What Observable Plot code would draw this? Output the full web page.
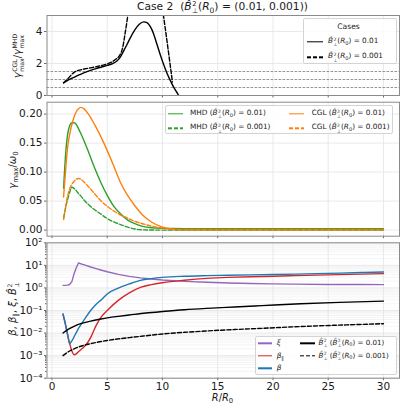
<!DOCTYPE html>
<html>
<head>
<meta charset="utf-8">
<script src="https://cdn.jsdelivr.net/npm/d3@7"></script>
<script src="https://cdn.jsdelivr.net/npm/@observablehq/plot@0.6"></script>
<style>
  html, body { margin: 0; padding: 0; background: #fff; }
  #fig { position: relative; width: 400px; height: 405px; overflow: hidden; font-family: "DejaVu Sans", sans-serif; color: #1a1a1a; }
  #fig svg.panel { position: absolute; left: 0; top: 0; }
  .txt { position: absolute; white-space: nowrap; line-height: 1; }
  .vlab { transform: translate(-50%, -50%) rotate(-90deg); }
  .mid { transform: translate(-50%, -50%); }
  .lft { transform: translateY(-50%); }
  .m { font-style: oblique; }
  .ss { display: inline-flex; flex-direction: column; font-size: 0.62em; line-height: 1.18; vertical-align: 0.62em; margin-left: 0.08em; text-align: left; }
  .sb { font-size: 0.7em; vertical-align: -0.3em; line-height: 0; }
  .box { position: absolute; border: 1px solid #d4d4d4; border-radius: 2px; background: rgba(255,255,255,0.85); box-sizing: border-box; }
  .sw { position: absolute; height: 1.4px; transform: translateY(-50%); }
</style>
</head>
<body>
<div id="fig"></div>
<script>
// ---- shared radial axis ----
const xDomain = [-0.45, 31.45];
const xTicks = [0, 5, 10, 15, 20, 25, 30];

// ---- top panel: ratio of CGL to MHD maximum growth rate ----
const rRatioA = [1.05, 1.5, 2.0, 2.5, 3.0, 3.5, 4.0, 4.5, 5.0, 5.5, 5.9, 6.2, 6.5, 6.8, 7.1, 7.5, 7.9, 8.3, 8.6, 8.9, 9.2, 9.5, 9.8, 10.1, 10.4, 10.7, 10.95, 11.2, 11.45];
const ratioA = [0.79, 0.97, 1.14, 1.3, 1.45, 1.57, 1.68, 1.78, 1.88, 2.0, 2.17, 2.42, 2.8, 3.2, 3.62, 4.1, 4.45, 4.6, 4.55, 4.3, 3.85, 3.2, 2.55, 1.95, 1.4, 0.95, 0.6, 0.3, 0.03];
const rRatioB = [1.05, 1.5, 2.0, 2.3, 2.6, 3.0, 3.5, 4.0, 4.5, 5.0, 5.5, 5.8, 6.1, 6.4, 6.6, 6.8, 6.9, 7.0, 7.5, 9.5, 9.9, 10.1, 10.4, 10.7, 10.9];
const ratioB = [0.79, 1.1, 1.45, 1.55, 1.6, 1.67, 1.73, 1.8, 1.88, 1.97, 2.13, 2.28, 2.48, 3.0, 3.8, 4.7, 5.2, 5.7, 8.0, 8.0, 6.0, 4.95, 3.45, 1.9, 0.85];
const ratioRefs = [0.5, 1, 1.5];
const ratioTicks = [0, 2, 4];

// ---- middle panel: maximum growth rate / omega_0 ----
const rGrowth = [1.05, 1.25, 1.4, 1.6, 1.8, 2.0, 2.2, 2.4, 2.6, 2.9, 3.3, 3.8, 4.4, 5.0, 5.6, 6.2, 6.8, 7.5, 8.2, 9.0, 10.0, 11.0, 12.0, 15.0, 20.0, 25.0, 30.0];
const mhdA = [0.072, 0.135, 0.163, 0.180, 0.185, 0.185, 0.182, 0.175, 0.167, 0.154, 0.135, 0.110, 0.083, 0.060, 0.041, 0.028, 0.018, 0.011, 0.0065, 0.004, 0.003, 0.0027, 0.0026, 0.0025, 0.0025, 0.0025, 0.0025];
const cglA = [0.057, 0.107, 0.140, 0.165, 0.182, 0.195, 0.204, 0.209, 0.2115, 0.209, 0.200, 0.184, 0.162, 0.137, 0.110, 0.082, 0.061, 0.042, 0.026, 0.014, 0.005, 0.0015, 0.001, 0.001, 0.001, 0.001, 0.001];
const mhdB = [0.021, 0.040, 0.052, 0.065, 0.074, 0.072, 0.068, 0.063, 0.059, 0.052, 0.044, 0.036, 0.028, 0.020, 0.014, 0.0095, 0.0055, 0.002, 0.0005, 0.0001, 0, 0, 0, 0, 0, 0, 0];
const cglB = [0.018, 0.042, 0.058, 0.071, 0.079, 0.084, 0.088, 0.089, 0.088, 0.083, 0.075, 0.064, 0.051, 0.041, 0.033, 0.026, 0.021, 0.015, 0.011, 0.0068, 0.0035, 0.001, 0.0003, 0, 0, 0, 0];
const growthTicks = [0, 0.05, 0.10, 0.15, 0.20];

// ---- bottom panel: plasma parameters and perpendicular field ----
const rPlasma = [1.0, 1.2, 1.4, 1.6, 1.8, 2.0, 2.2, 2.4, 2.7, 3.0, 3.5, 4.0, 4.5, 5.0, 6.0, 7.0, 8.0, 9.0, 10.0, 12.0, 14.0, 16.0, 18.0, 20.0, 22.0, 25.0, 28.0, 30.0];
const xi = [1.3, 1.3, 1.33, 1.42, 1.9, 4.3, 7.8, 12.7, 11.4, 10.2, 8.5, 7.2, 6.1, 5.2, 4.0, 3.25, 2.8, 2.5, 2.25, 1.95, 1.78, 1.66, 1.58, 1.52, 1.47, 1.43, 1.41, 1.4];
const betaPar = [0.065, 0.026, 0.009, 0.0035, 0.0016, 0.0011, 0.0012, 0.0015, 0.002, 0.0027, 0.0063, 0.022, 0.055, 0.10, 0.28, 0.6, 1.05, 1.4, 1.7, 2.2, 2.65, 2.95, 3.15, 3.3, 3.5, 3.8, 4.1, 4.3];
const beta = [0.072, 0.028, 0.0095, 0.0034, 0.0045, 0.0068, 0.0105, 0.016, 0.027, 0.045, 0.10, 0.19, 0.31, 0.54, 0.98, 1.5, 2.15, 2.6, 2.95, 3.3, 3.5, 3.65, 3.8, 3.95, 4.1, 4.4, 4.8, 5.1];
const rField = [1.0, 1.5, 2.0, 2.6, 3.5, 4.3, 5.0, 6.0, 7.0, 8.5, 10.0, 12.0, 14.0, 16.5, 19.0, 22.5, 26.0, 30.0];
const bPerpA = [0.010, 0.015, 0.020, 0.026, 0.034, 0.041, 0.047, 0.055, 0.063, 0.077, 0.090, 0.108, 0.124, 0.143, 0.165, 0.20, 0.23, 0.26];
const bPerpB = [0.001, 0.0015, 0.002, 0.0026, 0.0034, 0.0041, 0.0047, 0.0055, 0.0063, 0.0076, 0.0091, 0.0108, 0.0124, 0.0143, 0.0162, 0.0195, 0.0225, 0.026];
const decades = [1e-4, 1e-3, 1e-2, 1e-1, 1e0, 1e1, 1e2];

// ---- styling ----
const C = { mhd: "#2ca02c", cgl: "#ff7f0e", xi: "#9467bd", bpar: "#d62728", beta: "#1f77b4", b: "#000000" };
const W = 400, H = 405, ML = 46.5, MR = 1;
const LW = 1.4, DASH = "4.2,2";
const gridColor = "#e3e3e3", frameColor = "#8a8a8a", tickColor = "#6a6a6a";
const FS = 10.5;

const fig = document.getElementById("fig");
const minorTicks = [];
for (let e = -4; e < 2; e++) for (let k = 2; k <= 9; k++) minorTicks.push(k * 10 ** e);

const supDigits = { "-": "⁻", "0": "⁰", "1": "¹", "2": "²", "3": "³", "4": "⁴", "5": "⁵" };
const powFmt = d => "10" + String(Math.round(Math.log10(d))).split("").map(c => supDigits[c]).join("");

function xAxis(withLabels) {
  return Plot.axisX(xTicks, {
    tickSize: 2.5, tickPadding: 1.5, stroke: tickColor, fill: "#1a1a1a", label: null, fontSize: FS,
    tickFormat: withLabels ? (d => String(d)) : (() => "")
  });
}

function panel(top, bottom, y, marks) {
  const svg = Plot.plot({
    width: W, height: H,
    marginLeft: ML, marginRight: MR, marginTop: top, marginBottom: H - bottom,
    x: { domain: xDomain },
    y,
    style: { background: "transparent", fontFamily: "DejaVu Sans", fontSize: FS + "px", overflow: "visible" },
    marks
  });
  svg.classList.add("panel");
  fig.appendChild(svg);
}

// top panel
panel(15, 95, { domain: [0, 5] }, [
  Plot.gridX(xTicks, { stroke: gridColor, strokeOpacity: 1, strokeWidth: 0.8 }),
  Plot.gridY(ratioTicks, { stroke: gridColor, strokeOpacity: 1, strokeWidth: 0.8 }),
  Plot.ruleY(ratioRefs, { stroke: "#7a7a7a", strokeWidth: 0.8, strokeDasharray: "2.6,1.4" }),
  Plot.lineY(ratioA, { x: rRatioA, stroke: C.b, strokeWidth: LW, curve: "monotone-x", clip: true }),
  Plot.lineY(ratioB, { x: rRatioB, stroke: C.b, strokeWidth: LW, strokeDasharray: DASH, curve: "monotone-x", clip: true }),
  xAxis(false),
  Plot.axisY(ratioTicks, { tickSize: 2.5, tickPadding: 2, stroke: tickColor, fill: "#1a1a1a", label: null, fontSize: FS }),
  Plot.frame({ stroke: frameColor, strokeWidth: 1 })
]);

// middle panel
panel(101.7, 235.7, { domain: [-0.0105, 0.2205] }, [
  Plot.gridX(xTicks, { stroke: gridColor, strokeOpacity: 1, strokeWidth: 0.8 }),
  Plot.gridY(growthTicks, { stroke: gridColor, strokeOpacity: 1, strokeWidth: 0.8 }),
  Plot.lineY(mhdA, { x: rGrowth, stroke: C.mhd, strokeWidth: LW, curve: "monotone-x" }),
  Plot.lineY(cglA, { x: rGrowth, stroke: C.cgl, strokeWidth: LW, curve: "monotone-x" }),
  Plot.lineY(mhdB, { x: rGrowth, stroke: C.mhd, strokeWidth: LW, strokeDasharray: DASH, curve: "monotone-x" }),
  Plot.lineY(cglB, { x: rGrowth, stroke: C.cgl, strokeWidth: LW, strokeDasharray: DASH, curve: "monotone-x" }),
  xAxis(false),
  Plot.axisY(growthTicks, { tickSize: 2.5, tickPadding: 2, stroke: tickColor, fill: "#1a1a1a", label: null, fontSize: FS, tickFormat: d3.format(".2f") }),
  Plot.frame({ stroke: frameColor, strokeWidth: 1 })
]);

// bottom panel
panel(242.3, 377.7, { type: "log", domain: [1e-4, 1e2] }, [
  Plot.gridY(minorTicks, { stroke: "#efefef", strokeOpacity: 1, strokeWidth: 0.7 }),
  Plot.gridX(xTicks, { stroke: gridColor, strokeOpacity: 1, strokeWidth: 0.8 }),
  Plot.gridY(decades, { stroke: gridColor, strokeOpacity: 1, strokeWidth: 0.8 }),
  Plot.lineY(xi, { x: rPlasma, stroke: C.xi, strokeWidth: LW, curve: "linear" }),
  Plot.lineY(betaPar, { x: rPlasma, stroke: C.bpar, strokeWidth: LW, curve: "monotone-x" }),
  Plot.lineY(beta, { x: rPlasma, stroke: C.beta, strokeWidth: LW, curve: "monotone-x" }),
  Plot.lineY(bPerpA, { x: rField, stroke: C.b, strokeWidth: LW, curve: "monotone-x" }),
  Plot.lineY(bPerpB, { x: rField, stroke: C.b, strokeWidth: LW, strokeDasharray: DASH, curve: "monotone-x" }),
  xAxis(true),
  Plot.axisY(minorTicks, { tickSize: 1.5, stroke: tickColor, label: null, tickFormat: () => "" }),
  Plot.axisY(decades, { tickSize: 2.5, tickPadding: 2, stroke: tickColor, fill: "#1a1a1a", label: null, fontSize: FS, tickFormat: powFmt }),
  Plot.frame({ stroke: frameColor, strokeWidth: 1 })
]);

// ---- text, labels and legends ----
const Bp = '<span class="m">B̂</span><span class="ss"><span>2</span><span>⊥</span></span>';
const R0 = '(<span class="m">R</span><span class="sb">0</span>)';

function put(html, x, y, cls, size, extra = "") {
  const d = document.createElement("div");
  d.className = "txt " + cls;
  d.style.left = x + "px";
  d.style.top = y + "px";
  d.style.fontSize = size + "px";
  if (extra) d.style.cssText += extra;
  d.innerHTML = html;
  fig.appendChild(d);
  return d;
}
function box(x0, y0, x1, y1) {
  const d = document.createElement("div");
  d.className = "box";
  Object.assign(d.style, { left: x0 + "px", top: y0 + "px", width: (x1 - x0) + "px", height: (y1 - y0) + "px" });
  fig.appendChild(d);
}
function swatch(x0, x1, y, color, dashed) {
  const d = document.createElement("div");
  d.className = "sw";
  Object.assign(d.style, { left: x0 + "px", top: y + "px", width: (x1 - x0) + "px" });
  d.style.background = dashed
    ? `repeating-linear-gradient(to right, ${color} 0 4.2px, transparent 4.2px 6.2px)`
    : color;
  fig.appendChild(d);
}

// title
put(`Case 2&nbsp; (${Bp}${R0} = (0.01, 0.001))`, 222.5, 8.5, "mid", 10.7);

// axis labels
put(`<span class="m">γ</span><span class="ss"><span>CGL</span><span>max</span></span>/<span class="m">γ</span><span class="ss"><span>MHD</span><span>max</span></span>`, 18, 56, "vlab", 10);
put(`<span class="m">γ</span><span class="sb">max</span>/<span class="m">ω</span><span class="sb">0</span>`, 12.5, 170, "vlab", 10);
put(`<span class="m">β</span>, <span class="m">β</span><span class="sb">∥</span>, <span class="m">ξ</span>, ${Bp}`, 12.5, 309, "vlab", 10);
put(`<span class="m">R</span>/<span class="m">R</span><span class="sb">0</span>`, 222.5, 398, "mid", 9.8);

// top legend
box(303, 18, 397, 64);
put("Cases", 348.5, 26.5, "mid", 7.6);
swatch(306.7, 323.3, 41.7, C.b, false);
put(`${Bp}${R0} = 0.01`, 328, 41.7, "lft", 7.3);
swatch(306.7, 323.3, 57.3, C.b, true);
put(`${Bp}${R0} = 0.001`, 328, 57.3, "lft", 7.3);

// middle legend
box(165, 105, 393, 133.5);
swatch(167.7, 182.7, 114, C.mhd, false);
put(`MHD (${Bp}${R0} = 0.01)`, 190, 114, "lft", 7.3);
swatch(167.7, 182.7, 128.3, C.mhd, true);
put(`MHD (${Bp}${R0} = 0.001)`, 190, 128.3, "lft", 7.3);
swatch(289.3, 304, 114, C.cgl, false);
put(`CGL (${Bp}${R0} = 0.01)`, 311.7, 114, "lft", 7.3);
swatch(289.3, 304, 128.3, C.cgl, true);
put(`CGL (${Bp}${R0} = 0.001)`, 311.7, 128.3, "lft", 7.3);

// bottom legend
box(255, 336, 397, 374.5);
swatch(257.5, 271.7, 343.3, C.xi, false);
put(`<span class="m">ξ</span>`, 276.7, 343.3, "lft", 7.3);
swatch(257.5, 271.7, 356, C.bpar, false);
put(`<span class="m">β</span><span class="sb">∥</span>`, 276.7, 356, "lft", 7.3);
swatch(257.5, 271.7, 368.3, C.beta, false);
put(`<span class="m">β</span>`, 276.7, 368.3, "lft", 7.3);
swatch(300, 315, 343.3, C.b, false);
put(`${Bp} (${Bp}${R0} = 0.01)`, 318.5, 343.3, "lft", 7.1);
swatch(300, 315, 356, C.b, true);
put(`${Bp} (${Bp}${R0} = 0.001)`, 318.5, 356, "lft", 7.1);
</script>
</body>
</html>
